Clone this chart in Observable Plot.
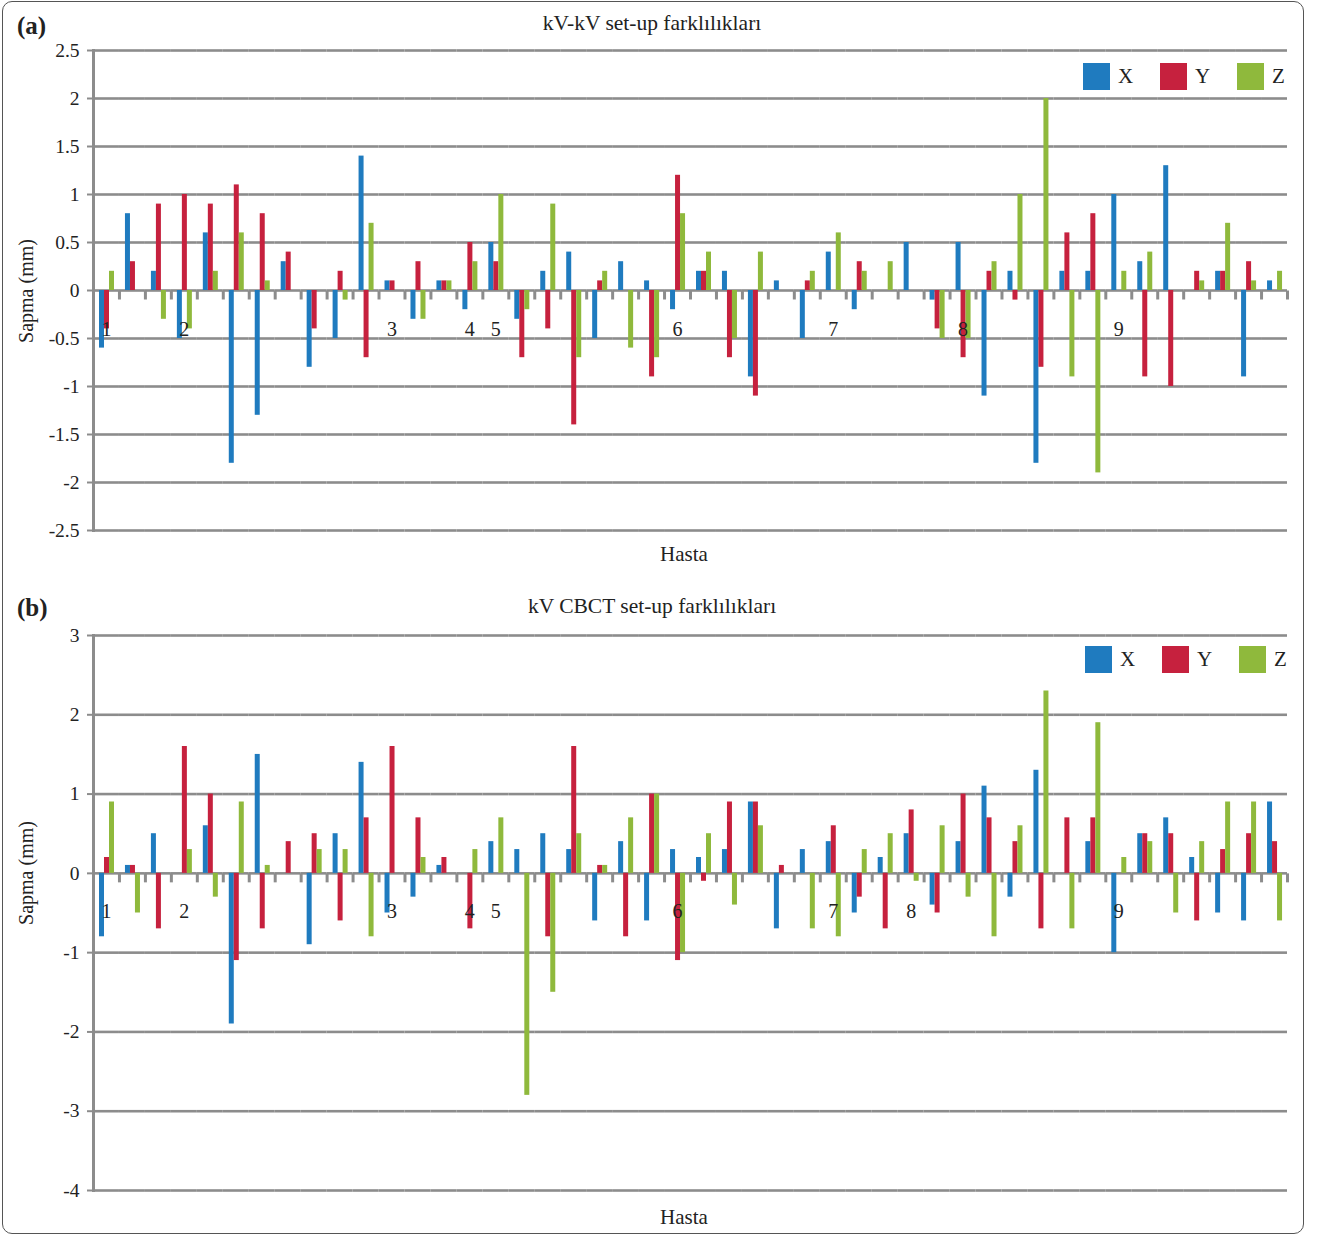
<!DOCTYPE html>
<html>
<head>
<meta charset="utf-8">
<script src="https://cdn.jsdelivr.net/npm/d3@7"></script>
<script src="https://cdn.jsdelivr.net/npm/@observablehq/plot@0.6"></script>
<style>
  body { margin: 0; background: #fff; font-family: "Liberation Serif", "Times New Roman", serif; color: #222; }
  #page { position: relative; width: 1318px; height: 1236px; overflow: hidden; }
  .box { position: absolute; left: 2px; top: 1px; width: 1302px; height: 1233px; border: 1px solid #555; border-radius: 10px; box-sizing: border-box; }
  .abs { position: absolute; white-space: nowrap; line-height: 1; }
  .tag { font-weight: bold; font-size: 25px; }
  .title { font-size: 21.5px; transform: translate(-50%, -50%); }
  .xlab { font-size: 21px; transform: translate(-50%, -50%); }
  .ylab { font-size: 20px; transform: translate(-50%, -50%) rotate(-90deg); }
  .legend { display: flex; align-items: center; }
  .legend .item { display: flex; align-items: center; width: 77px; font-size: 21px; }
  .legend .sw { width: 27px; height: 27px; margin-right: 8px; }
  svg { position: absolute; left: 0; }
</style>
</head>
<body>
<div id="page"><div class="box"></div></div>
<script>
// ---------- data ----------
const axes = ["X", "Y", "Z"];
const colors = ["#1f7bbf", "#c6213e", "#8fb93c"];
const patientLabels = ["1", "2", "3", "4", "5", "6", "7", "8", "9"];
const labelGroupsA = [0, 3, 11, 14, 15, 22, 28, 33, 39];
const labelGroupsB = [0, 3, 11, 14, 15, 22, 28, 31, 39];
const yTicksA = [-2.5, -2, -1.5, -1, -0.5, 0, 0.5, 1, 1.5, 2, 2.5];
const yTicksB = [-4, -3, -2, -1, 0, 1, 2, 3];

// (a) kV-kV
const aX = [-0.6, 0.8, 0.2, -0.5, 0.6, -1.8, -1.3, 0.3, -0.8, -0.5, 1.4, 0.1, -0.3, 0.1, -0.2, 0.5, -0.3, 0.2, 0.4, -0.5, 0.3, 0.1, -0.2, 0.2, 0.2, -0.9, 0.1, -0.5, 0.4, -0.2, 0, 0.5, -0.1, 0.5, -1.1, 0.2, -1.8, 0.2, 0.2, 1.0, 0.3, 1.3, 0, 0.2, -0.9, 0.1];
const aY = [-0.4, 0.3, 0.9, 1.0, 0.9, 1.1, 0.8, 0.4, -0.4, 0.2, -0.7, 0.1, 0.3, 0.1, 0.5, 0.3, -0.7, -0.4, -1.4, 0.1, 0, -0.9, 1.2, 0.2, -0.7, -1.1, 0, 0.1, 0, 0.3, 0, 0, -0.4, -0.7, 0.2, -0.1, -0.8, 0.6, 0.8, 0, -0.9, -1.0, 0.2, 0.2, 0.3, 0];
const aZ = [0.2, 0, -0.3, -0.4, 0.2, 0.6, 0.1, 0, 0, -0.1, 0.7, 0, -0.3, 0.1, 0.3, 1.0, -0.2, 0.9, -0.7, 0.2, -0.6, -0.7, 0.8, 0.4, -0.5, 0.4, 0, 0.2, 0.6, 0.2, 0.3, 0, -0.5, -0.5, 0.3, 1.0, 2.0, -0.9, -1.9, 0.2, 0.4, 0, 0.1, 0.7, 0.1, 0.2];

// (b) kV CBCT
const bX = [-0.8, 0.1, 0.5, 0, 0.6, -1.9, 1.5, 0, -0.9, 0.5, 1.4, -0.5, -0.3, 0.1, 0, 0.4, 0.3, 0.5, 0.3, -0.6, 0.4, -0.6, 0.3, 0.2, 0.3, 0.9, -0.7, 0.3, 0.4, -0.5, 0.2, 0.5, -0.4, 0.4, 1.1, -0.3, 1.3, 0, 0.4, -1.0, 0.5, 0.7, 0.2, -0.5, -0.6, 0.9];
const bY = [0.2, 0.1, -0.7, 1.6, 1.0, -1.1, -0.7, 0.4, 0.5, -0.6, 0.7, 1.6, 0.7, 0.2, -0.7, 0, 0, -0.8, 1.6, 0.1, -0.8, 1.0, -1.1, -0.1, 0.9, 0.9, 0.1, 0, 0.6, -0.3, -0.7, 0.8, -0.5, 1.0, 0.7, 0.4, -0.7, 0.7, 0.7, 0, 0.5, 0.5, -0.6, 0.3, 0.5, 0.4];
const bZ = [0.9, -0.5, 0, 0.3, -0.3, 0.9, 0.1, 0, 0.3, 0.3, -0.8, 0, 0.2, 0, 0.3, 0.7, -2.8, -1.5, 0.5, 0.1, 0.7, 1.0, -1.0, 0.5, -0.4, 0.6, 0, -0.7, -0.8, 0.3, 0.5, -0.1, 0.6, -0.3, -0.8, 0.6, 2.3, -0.7, 1.9, 0.2, 0.4, -0.5, 0.4, 0.9, 0.9, -0.6];

// ---------- drawing ----------
const GRAY = "#8c8c8c";
const FONT = '"Liberation Serif", "Times New Roman", serif';
const page = document.getElementById("page");

function addDiv(cls, text, left, top) {
  const d = document.createElement("div");
  d.className = "abs " + cls;
  d.textContent = text;
  d.style.left = left + "px";
  d.style.top = top + "px";
  page.appendChild(d);
  return d;
}

function addLegend(left, top) {
  const L = document.createElement("div");
  L.className = "abs legend";
  L.style.left = left + "px";
  L.style.top = top + "px";
  axes.forEach((k, i) => {
    const it = document.createElement("div");
    it.className = "item";
    const sw = document.createElement("div");
    sw.className = "sw";
    sw.style.background = colors[i];
    const t = document.createElement("span");
    t.textContent = k;
    it.appendChild(sw); it.appendChild(t);
    L.appendChild(it);
  });
  page.appendChild(L);
}

// tick mark hanging below the zero line at group boundaries
const tickSymbol = { draw(ctx) { ctx.rect(-1.5, 0, 3, 9); } };

function panel({X, Y, Z, yDomain, yTicks, labelGroups, top, height, marginTop, marginBottom, labelDy}) {
  const groups = X.map((_, i) => i);
  const data = [];
  groups.forEach(i => {
    data.push({g: i, axis: "X", value: X[i]});
    data.push({g: i, axis: "Y", value: Y[i]});
    data.push({g: i, axis: "Z", value: Z[i]});
  });
  const labels = labelGroups.map((g, i) => ({g, label: patientLabels[i]}));
  const svg = Plot.plot({
    width: 1318,
    height,
    marginTop,
    marginBottom,
    marginLeft: 93,
    marginRight: 31,
    style: {fontFamily: FONT, fontSize: "19px", background: "transparent", color: "#222"},
    fx: {domain: groups, padding: 0, axis: null, label: null},
    x: {domain: axes, paddingInner: 0, paddingOuter: 0.82, align: 0.57, axis: null},
    y: {domain: yDomain, axis: null},
    color: {domain: axes, range: colors},
    marks: [
      Plot.gridY(yTicks, {stroke: GRAY, strokeWidth: 2.6, strokeOpacity: 1}),
      Plot.barY(data, {fx: "g", x: "axis", y: "value", fill: "axis"}),
      Plot.dot(groups, {fx: d => d, y: 0, frameAnchor: "left", symbol: tickSymbol, fill: GRAY, stroke: "none"}),
      Plot.dot(groups.slice(-1), {fx: d => d, y: 0, frameAnchor: "right", symbol: tickSymbol, fill: GRAY, stroke: "none"}),
      Plot.frame({anchor: "left", fx: () => 0, stroke: GRAY, strokeWidth: 3}),
      Plot.axisY(yTicks, {tickSize: 6, tickPadding: 8, tickFormat: d => String(d), fontSize: 19.5, stroke: GRAY, strokeWidth: 2, fill: "#222", label: null}),
      Plot.text(labels, {fx: "g", y: 0, dy: labelDy, text: "label", fontSize: 20, fill: "#222", fontFamily: FONT})
    ]
  });
  svg.style.top = top + "px";
  page.appendChild(svg);
}

// Panel (a)
addDiv("tag", "(a)", 17, 13);
addDiv("title", "kV-kV set-up farklılıkları", 652, 24);
panel({X: aX, Y: aY, Z: aZ, yDomain: [-2.5, 2.5], yTicks: yTicksA, labelGroups: labelGroupsA,
       top: 0, height: 570, marginTop: 50, marginBottom: 40, labelDy: 39});
addDiv("ylab", "Sapma (mm)", 26, 291);
addDiv("xlab", "Hasta", 684, 554);
addLegend(1083, 63);

// Panel (b)
addDiv("tag", "(b)", 17, 595);
addDiv("title", "kV CBCT set-up farklılıkları", 652, 607);
panel({X: bX, Y: bY, Z: bZ, yDomain: [-4, 3], yTicks: yTicksB, labelGroups: labelGroupsB,
       top: 585, height: 645, marginTop: 50, marginBottom: 40, labelDy: 38});
addDiv("ylab", "Sapma (mm)", 26, 873);
addDiv("xlab", "Hasta", 684, 1217);
addLegend(1085, 646);
</script>
</body>
</html>
